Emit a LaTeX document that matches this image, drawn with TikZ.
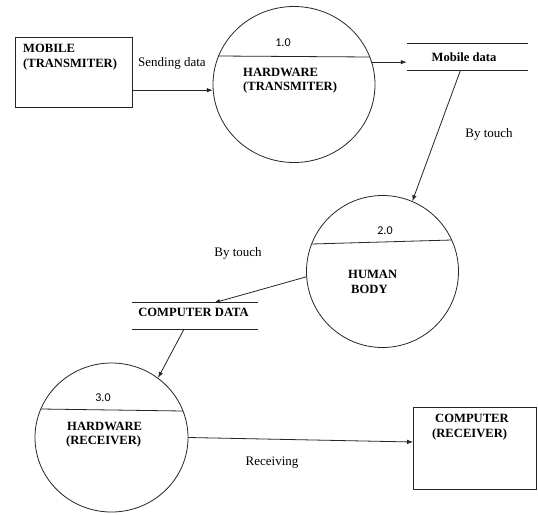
\documentclass[tikz,border=0pt]{standalone}
\usepackage{fontspec}
\setmainfont{Liberation Serif}
\newfontfamily\numfont{Carlito}
\usetikzlibrary{shapes.geometric,arrows.meta}
\begin{document}
\begin{tikzpicture}[x=1pt,y=-1pt,
  line/.style={draw=black!85,line width=0.8pt},
  arr/.style={line,-{Latex[length=6pt,width=4.5pt]}},
  proc/.style={ellipse,line,inner sep=0pt},
  entity/.style={rectangle,line,inner sep=0pt},
  store/.style={rectangle,inner sep=0pt,minimum height=26pt},
  lbl/.style={font=\fontsize{13}{15}\selectfont,inner sep=0pt},
  bl/.style={font=\fontsize{12.6}{15}\selectfont\bfseries,inner sep=0pt},
  num/.style={font=\numfont\fontsize{12}{14}\selectfont,inner sep=0pt}]

% canvas
\fill[white] (0,0) rectangle (538,514);
\useasboundingbox (0,0) rectangle (538,514);

% external entities
\node[entity,minimum width=117pt,minimum height=70pt] (mob) at (73.5,72) {};
\node[entity,minimum width=123pt,minimum height=82pt] (cmp) at (475,448) {};

% processes
\node[proc,minimum width=162pt,minimum height=156pt] (p1) at (294,84.5) {};
\node[proc,minimum width=152pt,minimum height=152pt] (p2) at (382.5,271.5) {};
\node[proc,minimum width=153pt,minimum height=149pt] (p3) at (111.5,437.5) {};

% process header dividers
\draw[line] ([shift={(-76,-28.5)}]p1.center) -- ([shift={(76,-27.5)}]p1.center);
\draw[line] ([shift={(-70.8,-27.5)}]p2.center) -- ([shift={(69.2,-31.5)}]p2.center);
\draw[line] ([shift={(-70.7,-28.5)}]p3.center) -- ([shift={(71.5,-26.5)}]p3.center);

% data stores
\node[store,minimum width=121pt] (ds1) at (467.5,57) {};
\draw[line] (ds1.north west) -- (ds1.north east);
\draw[line] (ds1.south west) -- (ds1.south east);
\node[store,minimum width=126pt] (ds2) at (195,316) {};
\draw[line] (ds2.north west) -- (ds2.north east);
\draw[line] (ds2.south west) -- (ds2.south east);

% texts
\node[bl,anchor=base west] (mobA) at (23,52.5) {MOBILE};
\node[bl,anchor=base west] (mobB) at (23,67) {(TRANSMITER)};
\node[lbl,anchor=base] (lsend) at (172,66) {Sending data};
\node[num,anchor=base] (n1) at (283,46) {1.0};
\node[bl,anchor=base west] (h1a) at (243,76) {HARDWARE};
\node[bl,anchor=base west] (h1b) at (243,90) {(TRANSMITER)};
\node[bl,anchor=base] (ds1t) at (464,61) {Mobile data};
\node[lbl,anchor=base] (ltouch1) at (489,137) {By touch};
\node[num,anchor=base] (n2) at (385,234) {2.0};
\node[bl,anchor=base west] (h2a) at (348,278) {HUMAN};
\node[bl,anchor=base west] (h2b) at (351,293) {BODY};
\node[lbl,anchor=base] (ltouch2) at (238,256) {By touch};
\node[bl,anchor=base] (ds2t) at (193.5,316) {COMPUTER DATA};
\node[num,anchor=base] (n3) at (103,401) {3.0};
\node[bl,anchor=base west] (h3a) at (67,430) {HARDWARE};
\node[bl,anchor=base west] (h3b) at (66,444) {(RECEIVER)};
\node[lbl,anchor=base] (lrecv) at (272,465) {Receiving};
\node[bl,anchor=base west] (cmpA) at (435,422) {COMPUTER};
\node[bl,anchor=base west] (cmpB) at (432,437) {(RECEIVER)};

% data flows
\draw[arr] (mob.east |- p1.184) -- (p1.184);
\draw[arr] (p1.16) -- (p1.16 -| ds1.west);
\draw[arr] ([xshift=-7pt]ds1.south) -- (p2.67);
\draw[arr] (p2.184) -- ([xshift=19pt]ds2.north);
\draw[arr] ([xshift=-11pt]ds2.south) -- (p3.52);
\draw[arr] (p3.east) -- ([yshift=6pt]cmp.west);
\end{tikzpicture}
\end{document}
